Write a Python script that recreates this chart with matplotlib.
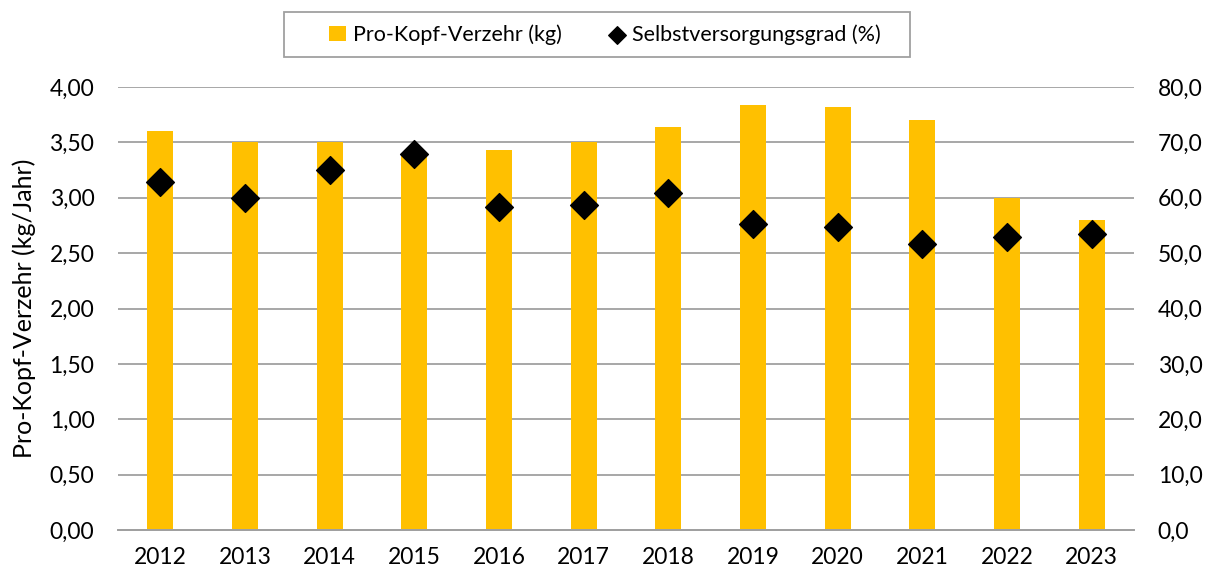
import matplotlib
matplotlib.use("Agg")
import matplotlib.pyplot as plt
from matplotlib.patches import Rectangle
from matplotlib.ticker import FuncFormatter, MultipleLocator

plt.rcParams['font.family'] = ['Lato', 'DejaVu Sans']

years = ["2012", "2013", "2014", "2015", "2016", "2017", "2018", "2019", "2020", "2021", "2022", "2023"]
verzehr = [3.60, 3.50, 3.50, 3.39, 3.43, 3.50, 3.64, 3.84, 3.82, 3.70, 3.00, 2.80]
svg = [62.8, 60.0, 65.1, 67.9, 58.4, 58.7, 60.8, 55.2, 54.7, 51.7, 52.9, 53.5]

W, H = 1208, 573
fig = plt.figure(figsize=(W/100, H/100), dpi=100)
ax = fig.add_axes([118/W, 1 - 530/H, (1134-118)/W, (530-87)/H])
ax2 = ax.twinx()

x = list(range(len(years)))
bars = ax.bar(x, verzehr, width=0.31, color='#FFC000', label='Pro-Kopf-Verzehr (kg)', zorder=2)
pts = ax2.scatter(x, svg, marker='D', s=200, color='black', label='Selbstversorgungsgrad (%)', zorder=3)

ax.set_xlim(-0.5, len(years) - 0.5)
ax.set_ylim(0, 4.0)
ax2.set_ylim(0, 80)
ax.yaxis.set_major_locator(MultipleLocator(0.5))
ax2.yaxis.set_major_locator(MultipleLocator(10))
ax.yaxis.set_major_formatter(FuncFormatter(lambda v, p: f"{v:.2f}".replace('.', ',')))
ax2.yaxis.set_major_formatter(FuncFormatter(lambda v, p: f"{v:.1f}".replace('.', ',')))
ax.set_xticks(x)
ax.set_xticklabels(years)

ax.grid(axis='y', color='#A0A0A0', linewidth=1.3, zorder=0)
ax.set_axisbelow(True)
for a in (ax, ax2):
    for s in ('top', 'left', 'right'):
        a.spines[s].set_visible(False)
    a.spines['bottom'].set_color('#A0A0A0')
    a.spines['bottom'].set_linewidth(1.3)
    a.tick_params(length=0, labelsize=16.5, colors='black')
ax.tick_params(axis='y', pad=17)
ax.tick_params(axis='x', pad=12)
ax2.tick_params(axis='y', pad=17)
ax.set_ylabel('Pro-Kopf-Verzehr (kg/Jahr)', fontsize=18, labelpad=10)

# legend frame
fig.patches.append(Rectangle((284/W, 1 - 57/H), (910-284)/W, 45/H, transform=fig.transFigure,
                             facecolor='white', edgecolor='#A0A0A0', linewidth=1.3, zorder=5))
leg = fig.legend([bars, pts], ['Pro-Kopf-Verzehr (kg)', 'Selbstversorgungsgrad (%)'],
                 loc='center', bbox_to_anchor=(605/W, 1 - 34.5/H), ncol=2,
                 fontsize=15.5, frameon=False,
                 handlelength=0.8, handletextpad=0.3, columnspacing=2.2,
                 borderpad=0.3, borderaxespad=0)
leg.set_zorder(6)
for h in leg.legend_handles:
    try:
        h.set_sizes([80])
    except Exception:
        pass

fig.savefig('out.png', dpi=100)
